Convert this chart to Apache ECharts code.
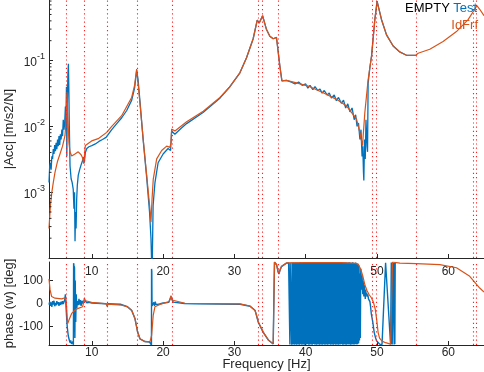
<!DOCTYPE html>
<html><head><meta charset="utf-8">
<script src="https://cdn.jsdelivr.net/npm/echarts@6/dist/echarts.min.js"></script>
<style>html,body{margin:0;padding:0;background:#fff}#c{width:484px;height:372px}</style>
</head><body><div id="c"></div>
<script>
// ---------- data ----------
const freqTicks = [10, 20, 30, 40, 50, 60];
const phaseTicks = [-100, 0, 100];
const magDecades = [1e-3, 1e-2, 1e-1];
const magMinorTicks = [2e-4,3e-4,4e-4,5e-4,6e-4,7e-4,8e-4,9e-4,
  2e-3,3e-3,4e-3,5e-3,6e-3,7e-3,8e-3,9e-3,
  2e-2,3e-2,4e-2,5e-2,6e-2,7e-2,8e-2,9e-2,
  2e-1,3e-1,4e-1,5e-1,6e-1,7e-1,8e-1];
const resonances = [6.48, 8.93, 12.17, 16.35, 21.22, 33.37, 33.86, 36.08, 49.33, 49.95, 55.44, 63.52, 63.95];

// Test (measured) |Acc|
const testMagF = [4.0,4.1,4.2,4.3,4.4,4.5,4.6,4.7,4.8,4.9,5.0,5.1,5.2,5.3,5.4,5.5,5.6,5.7,5.8,5.9,6.0,6.1,6.2,6.3,6.35,6.45,6.5,6.58,6.65,6.72,6.78,6.85,6.95,7.1,7.25,7.4,7.5,7.58,7.65,7.72,7.8,7.88,7.97,8.1,8.3,8.5,8.7,8.88,8.95,9.1,9.3,9.6,10,10.5,11,11.5,12.0,12.2,12.8,13.5,14.2,14.9,15.6,16.0,16.3,16.5,16.8,17.2,17.7,18.1,18.3,18.45,18.6,18.86,19.3,20.0,20.7,21.05,21.2,21.65,22.5,23.3,25.6,28,29.37,30.77,31.7,32.63,33.2,33.48,33.95,34.5,34.97,35.44,35.9,36.05,36.38,36.66,37.3,38.0,38.5,39.0,39.5,40.0,40.3,40.6,41.0,41.3,41.7,42.0,42.3,42.6,43.0,43.3,43.6,44.0,44.3,44.6,45.0,45.3,45.6,45.9,46.2,46.5,46.8,47.0,47.2,47.4,47.6,47.75,47.9,48.0,48.1,48.15,48.25,48.35,48.45,48.6,48.67,48.75,49.0,49.23,49.69,50.01,50.63,51.33,52.26,53.19,54.13,55.44];
const testMag = [1.4e-3,2.5e-3,2.8e-3,2.2e-3,3.5e-3,3.2e-3,4.5e-3,3.8e-3,5.2e-3,4.2e-3,5.6e-3,4.5e-3,6.3e-3,5.0e-3,7.1e-3,5.2e-3,7.6e-3,6.3e-3,8.9e-3,7.1e-3,0.0126,8.9e-3,0.0112,0.02,0.01,0.04,3.5e-3,0.025,0.063,0.089,0.04,0.01,2.5e-3,1.6e-3,1.4e-3,1.1e-3,5.6e-4,1.0e-3,1.8e-4,5.0e-4,2.8e-4,7.9e-4,1.26e-3,1.8e-3,2.2e-3,2.6e-3,3.0e-3,3.4e-3,2.8e-3,4.0e-3,4.6e-3,4.9e-3,5.1e-3,5.4e-3,5.9e-3,6.3e-3,6.8e-3,7.2e-3,8.9e-3,0.011,0.0135,0.0174,0.025,0.038,0.071,0.05,0.021,6.3e-3,1.66e-3,5.0e-4,2.0e-4,5e-5,6.3e-4,1.4e-3,2.8e-3,3.8e-3,4.6e-3,4.3e-3,8.5e-3,7.6e-3,9.3e-3,0.011,0.0162,0.027,0.04,0.065,0.11,0.214,0.41,0.37,0.48,0.295,0.234,0.214,0.224,0.209,0.081,0.049,0.05,0.047,0.044,0.047,0.042,0.044,0.038,0.042,0.036,0.040,0.035,0.037,0.032,0.035,0.030,0.032,0.027,0.030,0.0245,0.0275,0.0224,0.025,0.019,0.022,0.0166,0.019,0.0126,0.015,0.01,0.0112,6.3e-3,8.9e-3,3.5e-3,5.0e-3,2.0e-3,1.5e-3,6.3e-3,3.2e-3,0.0126,5.0e-3,4.1e-3,0.045,0.079,0.117,0.417,0.8,0.417,0.245,0.166,0.135,0.12,0.12];

// IdFrf (identified) |Acc|
const fitMagF = [4.0,4.2,4.4,4.6,4.84,5.2,5.54,5.9,6.24,6.4,6.52,6.62,6.8,6.94,7.18,7.64,8.1,8.5,8.67,8.9,9.0,9.1,9.98,10.9,12.09,12.17,12.25,12.8,14.19,15.59,16.0,16.29,16.45,16.75,17.2,17.7,18.15,18.3,18.45,18.62,19.1,19.8,20.5,20.96,21.1,21.2,21.66,23.3,25.63,27.97,29.37,30.77,31.7,32.63,33.2,33.48,33.95,34.5,34.97,35.44,35.9,36.05,36.38,36.66,37.3,38.7,40.58,42.44,44.32,45.72,46.65,47.12,47.59,47.96,48.29,48.75,49.23,49.69,50.01,50.63,51.33,52.26,53.19,54.13,55.44,55.5,55.76,57.4,59.26,61.14,62.77,63.7,64.0,64.4,65];
const fitMag = [2.8e-4,6.3e-4,1.0e-3,1.4e-3,2.0e-3,2.95e-3,3.8e-3,5.0e-3,7.2e-3,0.0126,0.033,0.0158,5.6e-3,4.1e-3,3.55e-3,3.8e-3,4.1e-3,3.7e-3,3.4e-3,2.7e-3,4.0e-3,5.1e-3,6.0e-3,6.5e-3,8.1e-3,7.6e-3,8.5e-3,0.01,0.0145,0.0275,0.0417,0.074,0.05,0.0229,6.5e-3,1.78e-3,5.6e-4,3.5e-4,7.9e-4,1.58e-3,3.2e-3,4.3e-3,5.0e-3,4.8e-3,5.6e-3,9.1e-3,8.5e-3,0.0117,0.017,0.0275,0.04,0.065,0.11,0.214,0.41,0.37,0.48,0.295,0.234,0.214,0.224,0.209,0.081,0.049,0.050,0.0457,0.040,0.0324,0.0257,0.0204,0.0151,0.0129,8.1e-3,5.1e-3,0.0162,0.051,0.117,0.417,0.78,0.417,0.245,0.166,0.135,0.12,0.12,0.126,0.129,0.148,0.195,0.275,0.417,0.6,0.68,0.6,0.48];

// Test phase
const testPhF = [4.0,4.1,4.2,4.3,4.4,4.5,4.6,4.7,4.8,4.9,5.0,5.1,5.2,5.3,5.4,5.5,5.6,5.7,5.8,5.9,6.0,6.1,6.2,6.3,6.4,6.48,6.56,6.7,6.8,6.94,7.05,7.15,7.25,7.35,7.42,7.45,7.5,7.58,7.63,7.68,7.75,7.82,7.9,8.0,8.1,8.2,8.3,8.4,8.5,8.6,8.7,8.8,8.9,9.0,9.1,9.3,9.6,10,12,12.17,12.25,14,15,15.6,16.05,16.43,16.75,17.45,18.1,18.3,18.37,18.38,18.42,18.45,18.6,18.7,18.8,18.9,19.0,19.2,19.5,20,20.8,21.1,21.4,23,24.5,30.8,32.2,32.9,33.34,33.8,34.04,34.74,35.44,35.6,35.62,35.92,36.1,36.24,36.4,36.6,37.3,37.6,
  37.75,37.78,37.82,37.98,38.02,38.08,38.14,38.2,38.26,38.32,38.38,38.44,38.5,38.56,38.62,38.68,38.74,38.8,38.86,38.92,39.0,39.06,39.12,39.18,39.24,39.3,39.36,39.42,39.48,39.54,39.6,39.66,39.72,39.78,39.84,39.9,39.96,40.02,40.08,40.14,40.2,40.26,40.32,40.38,40.44,40.5,40.56,40.62,40.68,40.74,40.8,40.86,40.92,41.0,41.06,41.12,41.18,41.24,41.3,41.36,41.42,41.48,41.54,41.6,41.66,41.72,41.78,41.84,41.9,41.96,42.02,42.08,42.14,42.2,42.26,42.32,42.38,42.44,42.5,42.56,42.62,42.68,42.74,42.8,42.86,42.92,42.98,43.04,43.1,43.16,43.22,43.28,43.34,43.4,43.46,43.52,43.58,43.64,43.7,43.76,43.82,43.88,43.94,44.0,44.06,44.12,44.18,44.24,44.3,44.36,44.42,44.48,44.54,44.6,44.66,44.72,44.78,44.84,44.9,44.96,45.02,45.08,45.14,45.2,45.26,45.32,45.38,45.44,45.5,45.56,45.62,45.68,45.74,45.8,45.86,45.92,45.98,46.04,46.1,46.16,46.22,46.28,46.34,46.4,46.46,46.52,46.58,46.64,46.7,46.76,46.82,46.88,46.94,47.0,47.06,47.12,47.18,47.24,47.3,47.36,47.42,47.48,47.54,47.6,47.66,47.72,
  47.8,47.85,47.9,48.0,48.05,48.1,48.15,48.2,48.3,48.35,48.4,48.5,48.55,48.6,48.7,48.8,48.9,49.0,49.1,49.2,49.4,49.6,49.8,49.95,50.15,50.35,50.7,51.2,51.9,52.0,52.03,52.06,52.1,52.13,52.3,52.4,52.45,52.5,52.55,52.6,52.65,52.7,53.2,55.5];
const testPh = [-5,8,-10,5,-15,10,-5,12,-12,3,-8,10,-3,6,-10,5,-6,8,-4,10,-2,5,15,40,-20,-64,-102,-140,-153,-170,-160,-175,-178,-165,-179,175,165,155,-150,100,-80,40,-20,10,-7,20,-5,15,-10,12,0,10,15,5,12,3,5,2,-1,-10,-1,-3,-14,-30,-65,-124,-153,-165,-167,-172,-180,150,140,-10,-15,5,-10,8,-5,3,-2,2,5,30,6,0,-1,-3,-12,-30,-80,-110,-125,-158,-176,-179,179,168,140,128,145,160,175,176,
  175,-178,177,176,-179,178,-178,177,-176,178,-179,176,-177,178,-178,177,-179,178,-177,176,-178,177,-179,178,-176,179,-178,177,-179,178,-177,178,-178,176,-179,178,-177,177,-178,179,-176,178,-177,177,-179,178,-178,176,-177,179,-178,177,-179,-178,177,-176,178,-178,179,-177,178,-179,176,-178,177,-177,179,-178,177,-179,178,-177,176,-178,178,-179,177,-178,178,-176,177,-179,178,-178,176,-177,178,-179,178,-178,177,-176,178,-178,177,-179,178,-177,176,-178,177,-179,178,-176,179,-178,177,-179,178,-177,178,-178,176,-179,178,-177,177,-178,179,-176,178,-177,177,-179,178,-178,176,-177,179,-178,177,-179,178,-178,177,-176,178,-178,179,-177,178,-179,176,-178,177,-177,179,-178,177,177,-178,176,-177,178,-176,175,-178,174,-176,172,-172,165,-160,
  130,-150,150,110,60,120,40,100,70,30,80,50,20,60,35,45,30,40,20,28,8,-15,-45,-80,-125,-150,-163,-170,-176,-178,177,-178,178,-177,-176,178,-178,177,-178,178,-176,176,175,173];

// IdFrf phase
const fitPhF = [4.0,4.15,4.37,4.84,5.78,6.24,6.38,6.45,6.55,6.62,6.8,7.18,7.64,8.11,8.72,8.85,8.95,9.14,9.98,12.09,12.17,12.25,14.19,15.0,15.59,16.05,16.43,16.75,17.45,18.16,18.39,18.62,18.86,19.56,20.82,21.0,21.1,21.25,21.42,23.06,24.46,30.77,32.17,32.87,33.1,33.34,33.81,34.04,34.74,35.44,35.6,35.62,35.92,36.1,36.24,36.4,36.61,37.3,40,45,47.1,47.4,47.7,48.0,48.3,48.6,48.9,49.2,49.5,49.75,49.95,50.15,50.35,50.7,51.2,51.9,52.16,52.17,53.2,55.5,58.8,61.14,63,64.4,65];
const fitPh = [107,60,30,23,20,25,15,-7,-60,-87,-72,-43,-29,-21,-14,5,23,12,5,-2,-14,-3,-7,-14,-29,-65,-124,-153,-165,-165,-138,-50,-14,-4,8,20,34,15,8,1,0,-2,-11,-29,-50,-80,-109,-124,-157,-175,-179,180,169,140,130,145,162,176,177,177,174,168,150,120,80,55,38,25,5,-25,-70,-125,-150,-163,-170,-176,-180,180,175,173,169,155,118,67,50];

// ---------- chart ----------
const pairs = (xs, ys) => xs.map((x, i) => [x, ys[i]]);
const BLUE = '#0072BD', ORANGE = '#D95319', AX = '#262626';
const FONT = 'Liberation Sans';

const dotted = {
  silent: true, symbol: ['none', 'none'], label: {show: false},
  lineStyle: {color: '#ff2020', type: [1.2, 3], width: 1.1},
  emphasis: {disabled: true},
  data: resonances.map(f => ({xAxis: f}))
};

function xAxisCfg(grid, margin, name) {
  return {
    type: 'value', gridIndex: grid, min: 4, max: 65,
    name: name || '', nameLocation: 'middle', nameGap: 13, nameMoveOverlap: false,
    nameTextStyle: {color: AX, fontSize: 13, fontFamily: FONT},
    axisLine: {show: true, onZero: false, lineStyle: {color: AX, width: 1}},
    axisTick: {show: true, inside: true, length: 4, customValues: freqTicks, lineStyle: {color: AX}},
    axisLabel: {show: true, customValues: freqTicks, margin: margin, color: AX, fontSize: 12, fontFamily: FONT},
    splitLine: {show: false}
  };
}

const chart = echarts.init(document.getElementById('c'), null, {renderer: 'canvas'});
chart.setOption({
  animation: false,
  textStyle: {fontFamily: FONT},
  grid: [
    {left: 49, right: 0, top: 0, height: 258, containLabel: false, outerBoundsMode: 'none'},
    {left: 49, right: 0, top: 262, height: 83, containLabel: false, outerBoundsMode: 'none'}
  ],
  xAxis: [xAxisCfg(0, 8), xAxisCfg(1, 2, 'Frequency [Hz]')],
  yAxis: [
    {
      type: 'log', logBase: 10, gridIndex: 0, min: 1e-4, max: 0.83,
      name: '|Acc| [m/s2/N]', nameLocation: 'middle', nameGap: 33, nameMoveOverlap: false,
      nameTextStyle: {color: AX, fontSize: 13, fontFamily: FONT},
      axisLine: {show: true, onZero: false, lineStyle: {color: AX}},
      axisTick: {show: true, inside: true, length: 4, lineStyle: {color: AX}},
      axisLabel: {
        margin: 4, color: AX, showMinLabel: false, showMaxLabel: false,
        formatter: function (v) {
          for (const d of magDecades) {
            if (Math.abs(v - d) / d < 1e-6) {
              return '{b|10}{s|' + Math.round(Math.log10(d)) + '}';
            }
          }
          return '';
        },
        rich: {
          b: {fontSize: 12, color: AX, fontFamily: FONT, lineHeight: 17, verticalAlign: 'bottom'},
          s: {fontSize: 9, color: AX, fontFamily: FONT, lineHeight: 10, verticalAlign: 'top'}
        }
      },
      splitLine: {show: false}
    },
    {
      type: 'value', gridIndex: 1, min: -180, max: 180,
      name: 'phase (w) [deg]', nameLocation: 'middle', nameGap: 33, nameMoveOverlap: false,
      nameTextStyle: {color: AX, fontSize: 13, fontFamily: FONT},
      axisLine: {show: true, onZero: false, lineStyle: {color: AX}},
      axisTick: {show: true, inside: true, length: 4, customValues: phaseTicks, lineStyle: {color: AX}},
      axisLabel: {customValues: phaseTicks, margin: 6, color: AX, fontSize: 12, fontFamily: FONT},
      splitLine: {show: false}
    }
  ],
  series: [
    {
      name: 'Test', type: 'line', xAxisIndex: 0, yAxisIndex: 0, showSymbol: false, symbol: 'none',
      data: pairs(testMagF, testMag), lineStyle: {color: BLUE, width: 1.3}, z: 2
    },
    {
      name: 'IdFrf', type: 'line', xAxisIndex: 0, yAxisIndex: 0, showSymbol: false, symbol: 'none',
      data: pairs(fitMagF, fitMag), lineStyle: {color: ORANGE, width: 1.2}, z: 3,
      markLine: dotted
    },
    {
      name: 'TestPh', type: 'line', xAxisIndex: 1, yAxisIndex: 1, showSymbol: false, symbol: 'none',
      data: pairs(testPhF, testPh), lineStyle: {color: BLUE, width: 1.4}, z: 2
    },
    {
      name: 'IdFrfPh', type: 'line', xAxisIndex: 1, yAxisIndex: 1, showSymbol: false, symbol: 'none',
      data: pairs(fitPhF, fitPh), lineStyle: {color: ORANGE, width: 1.2}, z: 3,
      markLine: dotted
    },
    {
      name: 'minorTicks', type: 'custom', xAxisIndex: 0, yAxisIndex: 0, silent: true, clip: false, z: 5,
      data: magMinorTicks.map(v => [4, v]),
      renderItem: function (params, api) {
        const p = api.coord([api.value(0), api.value(1)]);
        return {type: 'line', shape: {x1: p[0], y1: p[1], x2: p[0] + 2.5, y2: p[1]}, style: {stroke: AX, lineWidth: 1}};
      }
    }
  ],
  graphic: [
    {type: 'text', right: 7, top: 2, z: 100,
      style: {text: '{k|EMPTY} {b|Test}', rich: {
        k: {fill: '#000000', fontSize: 13, fontFamily: FONT},
        b: {fill: BLUE, fontSize: 13, fontFamily: FONT}}}},
    {type: 'text', right: 6, top: 19, z: 100,
      style: {text: 'IdFrf', fill: ORANGE, fontSize: 13, fontFamily: FONT}}
  ]
});
</script></body></html>
